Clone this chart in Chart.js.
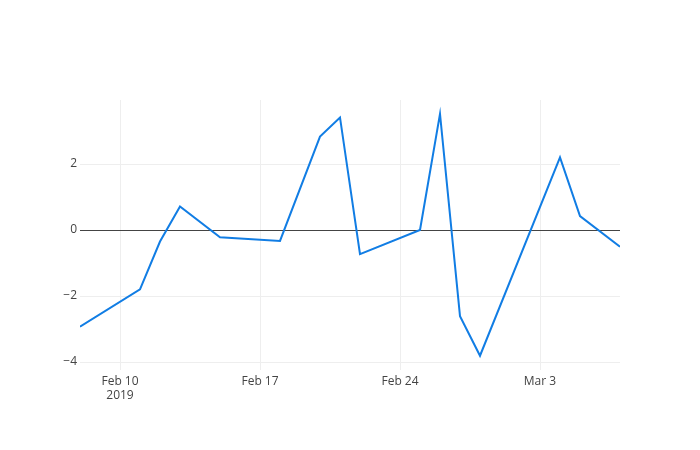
<!DOCTYPE html>
<html>
<head>
<meta charset="utf-8">
<script src="https://cdn.jsdelivr.net/npm/chart.js@4"></script>
<style>
  html, body { margin: 0; padding: 0; background: #fff; }
  #wrap { width: 700px; height: 450px; }
</style>
</head>
<body>
<div id="wrap"><canvas id="lineChart" width="700" height="450"></canvas></div>
<script>
const dates = ['2019-02-08', '2019-02-11', '2019-02-12', '2019-02-13', '2019-02-15', '2019-02-18',
  '2019-02-20', '2019-02-21', '2019-02-22', '2019-02-25', '2019-02-26', '2019-02-27',
  '2019-02-28', '2019-03-04', '2019-03-05', '2019-03-07'];
const values = [-2.93, -1.80, -0.35, 0.71, -0.22, -0.33, 2.83, 3.41, -0.73, 0.0, 3.52, -2.61,
  -3.81, 2.20, 0.42, -0.51];
const xTickDates = ['2019-02-10', '2019-02-17', '2019-02-24', '2019-03-03'];
const xTickLabels = [['Feb 10', '2019'], 'Feb 17', 'Feb 24', 'Mar 3'];
const yTicks = [-4, -2, 0, 2];

const DAY = 86400000;
const t = s => Date.parse(s + 'T00:00:00Z');
const xMin = t('2019-02-08');
const xMax = t('2019-03-07');

const ctx = document.getElementById('lineChart');
new Chart(ctx, {
  type: 'line',
  data: {
    datasets: [{
      data: dates.map((d, i) => ({ x: t(d), y: values[i] })),
      borderColor: 'rgb(17,125,228)',
      borderWidth: 2,
      pointRadius: 0,
      tension: 0,
      fill: false
    }]
  },
  options: {
    responsive: false,
    animation: false,
    layout: { padding: { left: 0, right: 80, top: 100, bottom: 0 } },
    plugins: { legend: { display: false }, tooltip: { enabled: false } },
    scales: {
      x: {
        type: 'linear',
        min: xMin,
        max: xMax,
        afterBuildTicks: axis => { axis.ticks = xTickDates.map(d => ({ value: t(d) })); },
        afterFit: axis => { axis.height = 80; },
        border: { display: false },
        grid: { color: '#eeeeee', drawTicks: false },
        ticks: {
          autoSkip: false,
          maxRotation: 0,
          padding: 4,
          color: '#444',
          font: { family: '"Open Sans"', size: 12 },
          callback: (v) => {
            const i = xTickDates.findIndex(d => t(d) === v);
            return i >= 0 ? xTickLabels[i] : '';
          }
        }
      },
      y: {
        min: (230 - 370) / 33,
        max: (230 - 100) / 33,
        afterBuildTicks: axis => { axis.ticks = yTicks.map(v => ({ value: v })); },
        afterFit: axis => { axis.width = 80; },
        border: { display: false },
        grid: {
          drawTicks: false,
          color: c => c.tick && c.tick.value === 0 ? '#444' : '#eeeeee'
        },
        ticks: {
          padding: 3,
          color: '#444',
          font: { family: '"Open Sans"', size: 12 },
          callback: v => v < 0 ? '\u2212' + Math.abs(v) : String(v)
        }
      }
    }
  }
});
</script>
</body>
</html>
